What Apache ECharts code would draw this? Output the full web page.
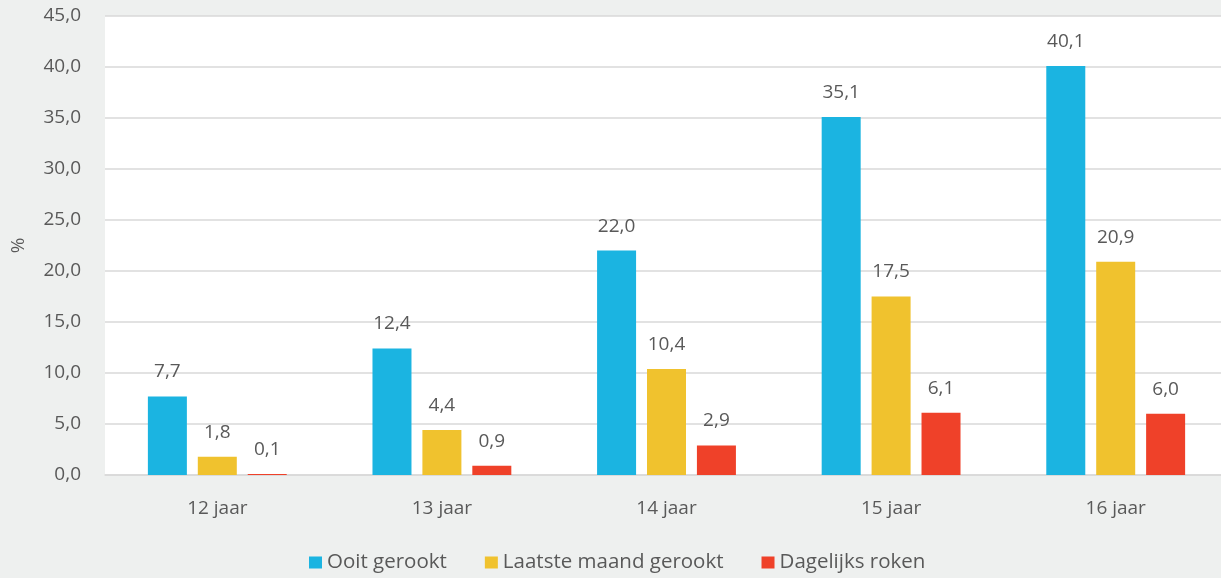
<!DOCTYPE html>
<html><head><meta charset="utf-8">
<script src="https://cdn.jsdelivr.net/npm/echarts@6/dist/echarts.min.js"></script>
<style>html,body{margin:0;padding:0;background:#eef0ef;overflow:hidden;}#c{width:1228px;height:578px;}</style>
</head><body><div id="c"></div>
<script>
const categories = ['12 jaar','13 jaar','14 jaar','15 jaar','16 jaar'];
const ooitGerookt = [7.7, 12.4, 22.0, 35.1, 40.1];
const laatsteMaand = [1.8, 4.4, 10.4, 17.5, 20.9];
const dagelijks = [0.1, 0.9, 2.9, 6.1, 6.0];
const seriesNames = ['Ooit gerookt','Laatste maand gerookt','Dagelijks roken'];
const colors = ['#1bb4e1','#f0c22e','#ef4129'];
const fmt = v => v.toFixed(1).replace('.', ',');
const font = 'Open Sans';
const fs = 19;
const chart = echarts.init(document.getElementById('c'));
function mk(name, data, color){
  return {name, type:'bar', data, barWidth:39, barGap:'28%',
    itemStyle:{color},
    label:{show:true, position:'top', distance:15, formatter:p=>fmt(p.value), color:'#595959', fontSize:fs, fontFamily:font}};
}
chart.setOption({
  backgroundColor:'#eef0ef',
  textStyle:{fontFamily:font},
  grid:{left:105, right:0, top:16, bottom:103, show:true, backgroundColor:'#ffffff', borderWidth:0,
    containLabel:false, outerBoundsMode:'none'},
  legend:{top:547, left:304, padding:5, itemWidth:13, itemHeight:12, itemGap:38, icon:'rect',
    textStyle:{color:'#595959', fontSize:20.5, fontFamily:font}},
  xAxis:{type:'category', data:categories,
    axisLine:{show:true, lineStyle:{color:'#d9d9d9', width:1.5}}, axisTick:{show:false},
    axisLabel:{color:'#595959', fontSize:fs, fontFamily:font, margin:24}},
  yAxis:{type:'value', min:0, max:45, interval:5, name:'%', nameLocation:'middle', nameGap:77, nameRotate:90,
    nameTextStyle:{color:'#595959', fontSize:fs, fontFamily:font},
    axisLine:{show:false}, axisTick:{show:false},
    splitLine:{lineStyle:{color:'#d9d9d9', width:1.5}},
    axisLabel:{color:'#595959', fontSize:fs, fontFamily:font, margin:24, formatter:v=>fmt(v)}},
  series:[mk(seriesNames[0], ooitGerookt, colors[0]), mk(seriesNames[1], laatsteMaand, colors[1]), mk(seriesNames[2], dagelijks, colors[2])]
});
</script></body></html>
